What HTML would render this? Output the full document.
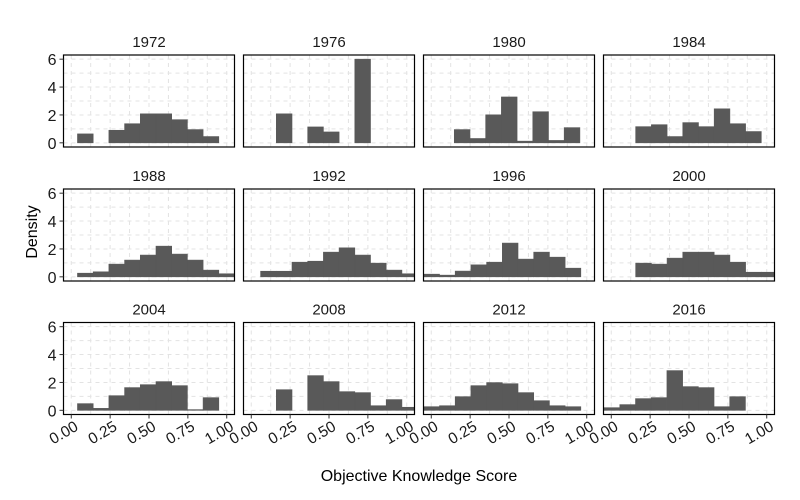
<!DOCTYPE html>
<html><head><meta charset="utf-8"><style>
body{margin:0;background:#fff;}
svg{display:block;font-family:"Liberation Sans",Arial,sans-serif;}
</style></head><body>
<svg id="chart" width="800" height="500" viewBox="0 0 800 500">
<text x="419" y="481" font-size="16" text-anchor="middle" fill="#000">Objective Knowledge Score</text>
<text transform="translate(37,232) rotate(-90)" font-size="16" text-anchor="middle" fill="#000">Density</text>
</svg>
<script>
const years = ["1972","1976","1980","1984","1988","1992","1996","2000","2004","2008","2012","2016"];
const binStarts = [0.04,0.06,0.148,0.157,0.04,0.06,-0.048,0.157,0.04,0.06,-0.048,-0.046];
const binWidth = 0.101;
const d1972 = [0.64,0,0.9,1.37,2.08,2.08,1.66,0.95,0.45];
const d1976 = [0,2.08,0,1.14,0.78,0,6.0];
const d1980 = [0.95,0.31,2.01,3.29,0.12,2.23,0.17,1.09];
const d1984 = [1.16,1.30,0.45,1.45,1.16,2.44,1.37,0.81];
const d1988 = [0.26,0.36,0.91,1.2,1.56,2.2,1.63,1.2,0.48,0.22];
const d1992 = [0.4,0.4,1.05,1.12,1.77,2.08,1.56,0.98,0.48,0.22];
const d1996 = [0.19,0.12,0.41,0.86,1.05,2.42,1.27,1.77,1.41,0.62];
const d2000 = [0.98,0.91,1.34,1.77,1.77,1.56,1.05,0.33,0.33];
const d2004 = [0.48,0.14,1.05,1.63,1.84,2.06,1.77,0.05,0.91];
const d2008 = [0,1.48,0,2.49,2.06,1.34,1.27,0.33,0.77,0.22];
const d2012 = [0.26,0.33,0.98,1.77,1.99,1.91,1.27,0.69,0.33,0.26];
const d2016 = [0.19,0.41,0.84,0.91,2.85,1.70,1.63,0.26,0.98];
const densities = [d1972,d1976,d1980,d1984,d1988,d1992,d1996,d2000,d2004,d2008,d2012,d2016];
const xTicks = [0,0.25,0.5,0.75,1.0];
const xTickLabels = ["0.00","0.25","0.50","0.75","1.00"];
const yTicks = [0,2,4,6];

const NS="http://www.w3.org/2000/svg";
const svg=document.getElementById('chart');
function mk(tag,attrs,parent){const e=document.createElementNS(NS,tag);for(const k in attrs)e.setAttribute(k,attrs[k]);(parent||svg).appendChild(e);return e;}
const PW=171, PH=92, xDom=[-0.05,1.05], yDom=[-0.3,6.3];
const colL=[63.5,243.5,423.5,603.5], rowT=[55,189,322.5];

years.forEach((yr,i)=>{
  const c=i%4, r=Math.floor(i/4), L=colL[c], T=rowT[r];
  const sx=v=>L+(v-xDom[0])/(xDom[1]-xDom[0])*PW;
  const sy=v=>T+PH-(v-yDom[0])/(yDom[1]-yDom[0])*PH;
  const g=mk('g',{});
  
  
  const title=mk('text',{x:L+PW/2,y:T-8,'font-size':15,'text-anchor':'middle',fill:'#1a1a1a'},g);
  title.textContent=yr;
  
  
  const clipId='clip'+i;
  const cp=mk('clipPath',{id:clipId},g);mk('rect',{x:L,y:T,width:PW,height:PH},cp);
  const grid=mk('g',{'clip-path':'url(#'+clipId+')'},g);
  
  
  for(let v=0;v<=1.0001;v+=0.125) mk('line',{x1:sx(v),x2:sx(v),y1:T,y2:T+PH,stroke:'#e3e3e3','stroke-width':1,'stroke-dasharray':'4,4'},grid);
  for(let v=0;v<=6;v+=1) mk('line',{x1:L,x2:L+PW,y1:sy(v),y2:sy(v),stroke:'#e3e3e3','stroke-width':1,'stroke-dasharray':'4,4'},grid);
  const bars=mk('g',{'clip-path':'url(#'+clipId+')'},g);
  densities[i].forEach((d,k)=>{
    if(d<=0) return;
    const x0=binStarts[i]+k*binWidth, x1=x0+binWidth;
    const b=mk('rect',{x:sx(x0),y:sy(d),width:sx(x1)-sx(x0),height:sy(0)-sy(d),fill:'#595959',stroke:'#595959','stroke-width':0.6},bars);
    
    
  });
  const fr=mk('rect',{x:L,y:T,width:PW,height:PH,fill:'none',stroke:'#000','stroke-width':1.2},g);
  
  
  if(c===0){
    yTicks.forEach(v=>{
      mk('line',{x1:L-4,x2:L,y1:sy(v),y2:sy(v),stroke:'#333'},g);
      const t=mk('text',{x:L-7,y:sy(v)+6,'font-size':16,'text-anchor':'end',fill:'#1a1a1a'},g);
      t.textContent=v;
      
      
    });
  }
  if(r===2){
    xTicks.forEach((v,k)=>{
      mk('line',{x1:sx(v),x2:sx(v),y1:T+PH,y2:T+PH+4,stroke:'#333'},g);
      const t=mk('text',{transform:'translate('+(sx(v)+8)+','+(T+PH+15)+') rotate(-30)','font-size':15.5,'text-anchor':'end',fill:'#1a1a1a'},g);
      t.textContent=xTickLabels[k];
      
      
    });
  }
});
</script>
</body></html>
